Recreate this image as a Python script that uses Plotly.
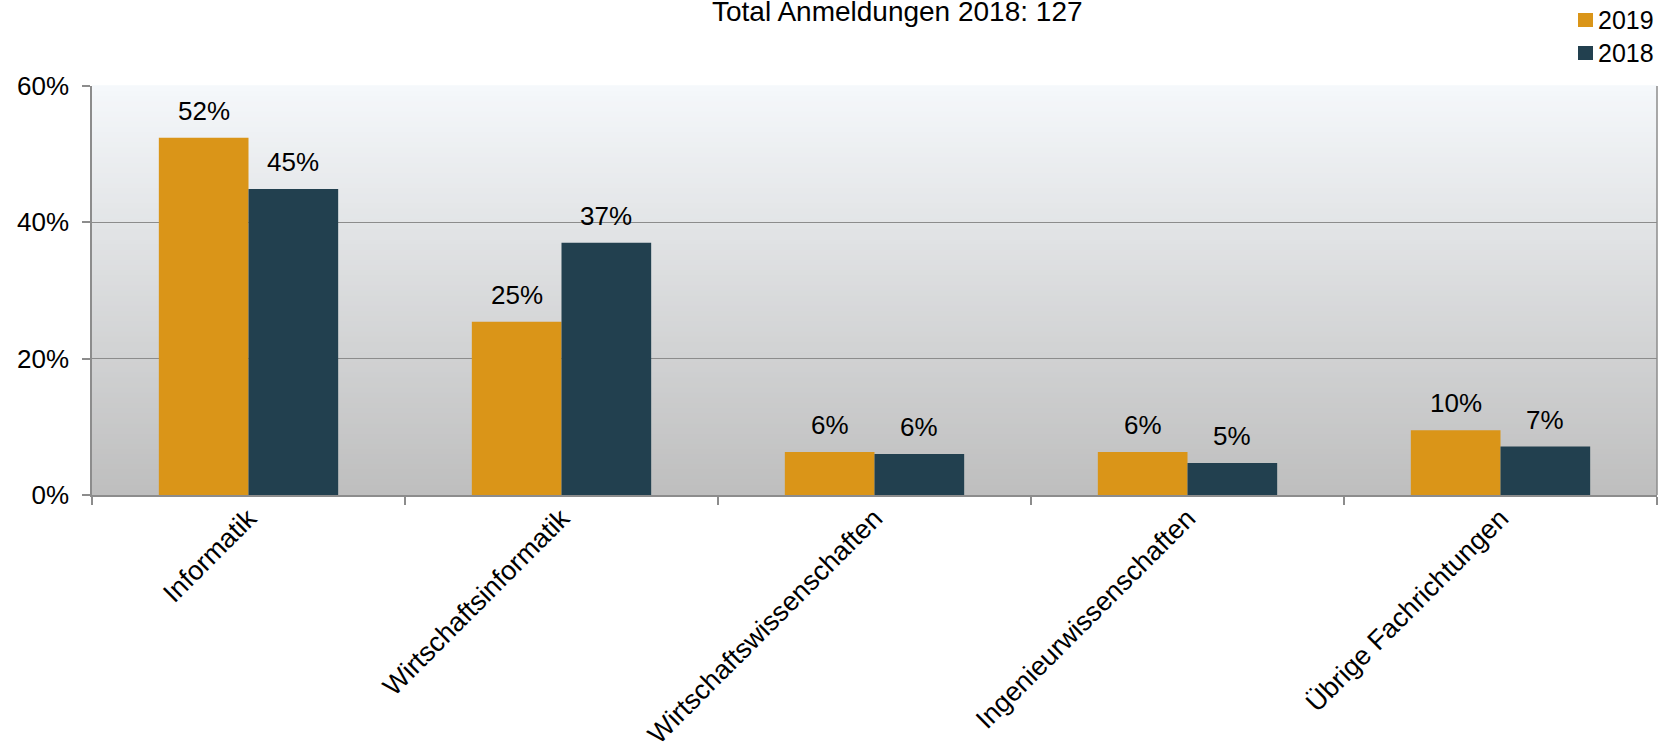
import plotly.graph_objects as go

# Anmeldungen nach Fachrichtung (Anteile)
categories = ["Informatik", "Wirtschaftsinformatik", "Wirtschaftswissenschaften",
              "Ingenieurwissenschaften", "Übrige Fachrichtungen"]
share_2019 = [0.524, 0.254, 0.063, 0.063, 0.095]
share_2018 = [0.449, 0.370, 0.060, 0.047, 0.071]
series_names = ["2019", "2018"]
y_ticks = [0, 0.2, 0.4, 0.6]
y_tick_labels = ["0%", "20%", "40%", "60%"]
title_text = "Total Anmeldungen 2018: 127"

W, H = 1662, 748
M_L, M_R, M_T, M_B = 92, 5, 86, 253
PW, PH = W - M_L - M_R, H - M_T - M_B
BARGAP = 0.427

FONT = "Liberation Sans, Arial, sans-serif"
ORANGE = "#DA9518"
NAVY = "#22404F"
GRID = "#8C8C8C"
COLORS = [ORANGE, NAVY]


def px_x(px):
    """page pixel column -> paper x"""
    return (px - M_L) / PW


def px_y(py):
    """page pixel row -> paper y"""
    return (H - M_B - py) / PH


fig = go.Figure()
series = [share_2019, share_2018]
for name, vals, col in zip(series_names, series, COLORS):
    fig.add_trace(go.Bar(
        x=categories, y=vals, name=name, marker_color=col,
        marker_line_width=0, showlegend=False,
    ))

annotations = []
# value labels above each bar, centred on the bar within its group
cat_px = PW / len(categories)
bar_px = cat_px * (1 - BARGAP) / len(series)
for j, vals in enumerate(series):
    shift = (j - (len(series) - 1) / 2) * bar_px
    for cat, v in zip(categories, vals):
        annotations.append(dict(
            x=cat, y=v, xref="x", yref="y", text=f"{v:.0%}",
            xshift=shift, yshift=10, xanchor="center", yanchor="bottom",
            showarrow=False, font=dict(family=FONT, size=26, color="#000000"),
        ))

# vertical gradient behind the plot area, light at the top, grey at the bottom
top_rgb = (245, 248, 251)
bot_rgb = (190, 190, 190)
n_bands = 80
shapes = []
for i in range(n_bands):
    t = (i + 0.5) / n_bands
    r, g, b = (round(bot_rgb[k] + (top_rgb[k] - bot_rgb[k]) * t) for k in range(3))
    shapes.append(dict(
        type="rect", xref="x domain", yref="y domain",
        x0=0, x1=1, y0=i / n_bands, y1=(i + 1) / n_bands + 0.002,
        fillcolor=f"rgb({r},{g},{b})", line_width=0, layer="below",
    ))
# right border of the plot area
shapes.append(dict(type="line", xref="x domain", yref="y domain",
                   x0=1, x1=1, y0=0, y1=1, line=dict(color=GRID, width=1.5)))

annotations.append(dict(
    text=title_text, xref="paper", yref="paper",
    x=px_x(897), y=px_y(11), xanchor="center", yanchor="middle",
    showarrow=False, font=dict(family=FONT, size=28, color="#000000"),
))

# legend: coloured squares with the series names beside them
for name, col, cy in zip(series_names, COLORS, [20, 53]):
    shapes.append(dict(
        type="rect", xref="paper", yref="paper",
        x0=px_x(1578), x1=px_x(1593), y0=px_y(cy + 7), y1=px_y(cy - 7),
        fillcolor=col, line_width=0,
    ))
    annotations.append(dict(
        text=name, xref="paper", yref="paper", x=px_x(1596), y=px_y(cy),
        xanchor="left", yanchor="middle", showarrow=False,
        font=dict(family=FONT, size=25, color="#000000"),
    ))

fig.update_layout(
    width=W, height=H,
    margin=dict(l=M_L, r=M_R, t=M_T, b=M_B, autoexpand=False),
    paper_bgcolor="#FFFFFF", plot_bgcolor="rgba(0,0,0,0)",
    font=dict(family=FONT, size=25, color="#000000"),
    barmode="group", bargap=BARGAP, bargroupgap=0,
    shapes=shapes, annotations=annotations,
    showlegend=False,
)
fig.update_xaxes(
    type="category", tickangle=-45, tickson="boundaries",
    ticks="outside", ticklen=8, tickcolor=GRID, tickwidth=1.5,
    showline=True, linecolor=GRID, linewidth=1.5, showgrid=False,
    tickfont=dict(size=27), ticklabelstandoff=-5, fixedrange=True,
)
fig.update_yaxes(
    range=[0, 0.6], tickvals=y_ticks, ticktext=y_tick_labels,
    ticks="outside", ticklen=8, tickcolor=GRID, tickwidth=1.5,
    showline=True, linecolor=GRID, linewidth=1.5,
    showgrid=True, gridcolor=GRID, gridwidth=1.2,
    zeroline=False, tickfont=dict(size=26), ticklabelstandoff=8,
    fixedrange=True,
)

fig.write_html("out.html")
